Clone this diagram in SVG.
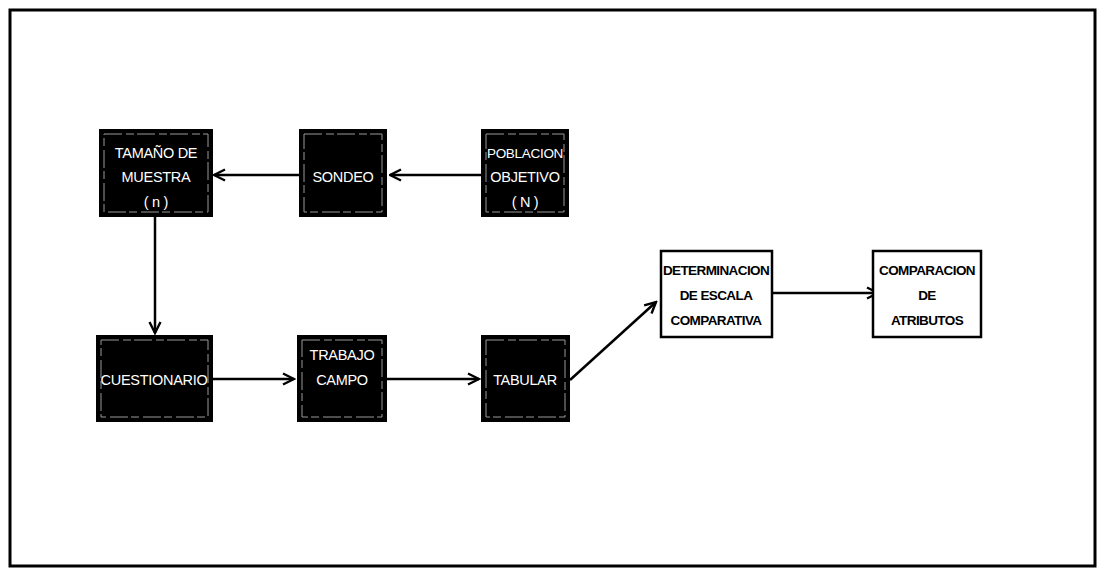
<svg xmlns="http://www.w3.org/2000/svg" width="1100" height="569" viewBox="0 0 1100 569">
<style>
.blk{fill:#000;stroke:#000;stroke-width:2}
.inner{fill:none;stroke:#999;stroke-width:1;stroke-dasharray:18 4 8 3}
.wht{fill:#fff;stroke:#000;stroke-width:2.5}
.tw{fill:#fff;font-family:"Liberation Sans",Arial,sans-serif;font-size:14.5px;text-anchor:middle;letter-spacing:-0.3px}
.tb{fill:#000;font-family:"Liberation Sans",Arial,sans-serif;font-size:13.5px;font-weight:bold;text-anchor:middle;letter-spacing:-0.6px}
.con{stroke:#000;stroke-width:2.5;fill:none}
</style>
<defs>
<marker id="ah" viewBox="0 0 14 14" refX="12.5" refY="7" markerWidth="14" markerHeight="14" markerUnits="userSpaceOnUse" orient="auto">
<path d="M1.5,1.5 L12.5,7 L1.5,12.5" fill="none" stroke="#000" stroke-width="2.4"/>
</marker>
</defs>
<rect x="0" y="0" width="1100" height="569" fill="#fff"/>
<rect x="10" y="10" width="1085" height="556" fill="none" stroke="#000" stroke-width="3"/>
<g id="connectors">
<line class="con" x1="155" y1="216" x2="155" y2="333" marker-end="url(#ah)"/>
<line class="con" x1="300" y1="175" x2="214" y2="175" marker-end="url(#ah)"/>
<line class="con" x1="482" y1="175" x2="390" y2="175" marker-end="url(#ah)"/>
<line class="con" x1="212" y1="379" x2="294" y2="379" marker-end="url(#ah)"/>
<line class="con" x1="386" y1="379" x2="479" y2="379" marker-end="url(#ah)"/>
<line class="con" x1="570" y1="380" x2="656" y2="302" marker-end="url(#ah)"/>
<line class="con" x1="772" y1="293" x2="878" y2="293" marker-end="url(#ah)"/>
</g>
<g id="n-tamano">
<rect class="blk" x="100" y="130" width="112" height="86"/>
<rect class="inner" x="104" y="134" width="104" height="78"/>
<text class="tw" x="156" y="158">TAMAÑO DE</text>
<text class="tw" x="156" y="182">MUESTRA</text>
<text class="tw" x="156" y="207">( n )</text>
</g>
<g id="n-sondeo">
<rect class="blk" x="300" y="130" width="86" height="86"/>
<rect class="inner" x="304" y="134" width="78" height="78"/>
<text class="tw" x="343" y="182">SONDEO</text>
</g>
<g id="n-poblacion">
<rect class="blk" x="482" y="130" width="86" height="86"/>
<rect class="inner" x="486" y="134" width="78" height="78"/>
<text class="tw" x="525" y="158" style="font-size:13.5px">POBLACION</text>
<text class="tw" x="525" y="182">OBJETIVO</text>
<text class="tw" x="525" y="207">( N )</text>
</g>
<g id="n-cuestionario">
<rect class="blk" x="97" y="336" width="115" height="85"/>
<rect class="inner" x="101" y="340" width="107" height="77"/>
<text class="tw" x="154" y="385">CUESTIONARIO</text>
</g>
<g id="n-trabajo">
<rect class="blk" x="298" y="336" width="88" height="85"/>
<rect class="inner" x="302" y="340" width="80" height="77"/>
<text class="tw" x="342" y="360">TRABAJO</text>
<text class="tw" x="342" y="385">CAMPO</text>
</g>
<g id="n-tabular">
<rect class="blk" x="482" y="336" width="87" height="85"/>
<rect class="inner" x="486" y="340" width="79" height="77"/>
<text class="tw" x="525" y="385">TABULAR</text>
</g>
<g id="n-determinacion">
<rect class="wht" x="661" y="251" width="111" height="86"/>
<text class="tb" x="716" y="275">DETERMINACION</text>
<text class="tb" x="716" y="300">DE ESCALA</text>
<text class="tb" x="716" y="325">COMPARATIVA</text>
</g>
<g id="n-comparacion">
<rect class="wht" x="873" y="251" width="108" height="86"/>
<text class="tb" x="927" y="275">COMPARACION</text>
<text class="tb" x="927" y="300">DE</text>
<text class="tb" x="927" y="325">ATRIBUTOS</text>
</g>
</svg>
